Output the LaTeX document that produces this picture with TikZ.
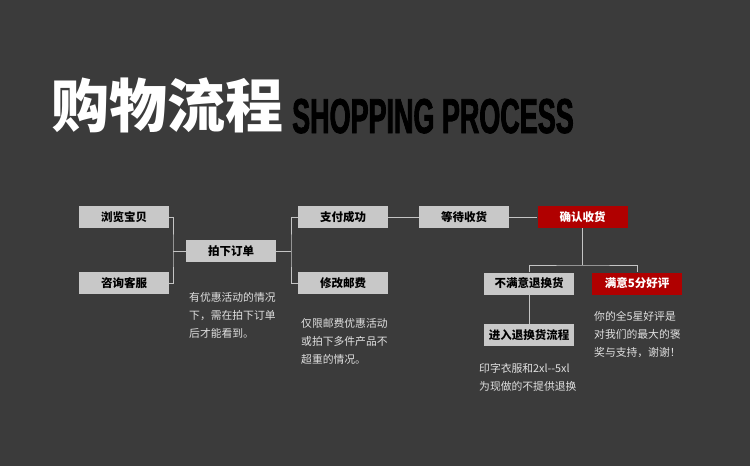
\documentclass[tikz,border=0pt]{standalone}
\usepackage{fontspec}
\setmainfont{Noto Sans CJK SC}
\newfontfamily\cjk{Noto Sans CJK SC}
\newfontfamily\narrowfont[FakeStretch=0.55,BoldFeatures={FakeBold=1.6}]{Liberation Sans}
\definecolor{bgdark}{HTML}{3B3B3B}
\definecolor{boxgray}{HTML}{C8C8C8}
\definecolor{boxred}{HTML}{B00000}
\definecolor{linegray}{HTML}{C4C4C4}
\definecolor{notegray}{HTML}{E0E0E0}

\begin{document}
\begin{tikzpicture}[x=1pt,y=-1pt,
    stepbox/.style={fill=boxgray,minimum width=90pt,minimum height=22pt,inner sep=0pt,
      font=\cjk\fontsize{11.5}{12}\selectfont\bfseries,text=black},
    redbox/.style={stepbox,fill=boxred,text=white},
    link/.style={draw=linegray,line width=0.9pt},
    note/.style={anchor=north west,inner sep=0pt,align=left,text=notegray,
      font=\cjk\fontsize{10.8}{18}\selectfont}]
      \fill[bgdark] (0,0) rectangle (750,466);
      \useasboundingbox (0,0) rectangle (750,466);

      \node[anchor=base west,inner sep=0pt,text=white,
        font=\cjk\fontsize{58}{60}\selectfont\bfseries] (title) at (51,127) {购物流程};
      \node[anchor=base west,inner sep=0pt,text=black,
        font=\narrowfont\fontsize{49}{50}\selectfont\bfseries] (subtitle) at (292,133) {SHOPPING PROCESS};

      \node[stepbox] (browse)   at (124,217)   {浏览宝贝};
      \node[stepbox] (consult)  at (124,283)   {咨询客服};
      \node[stepbox] (order)    at (231,251)   {拍下订单};
      \node[stepbox] (paid)     at (343,217)   {支付成功};
      \node[stepbox] (postage)  at (343,283)   {修改邮费};
      \node[stepbox] (waiting)  at (464,217)   {等待收货};
      \node[redbox]  (confirm)  at (582.5,217) {确认收货};
      \node[stepbox] (unhappy)  at (529,283.5) {不满意退换货};
      \node[redbox]  (happy)    at (637,283.5) {满意5分好评};
      \node[stepbox] (exchange) at (529,335)   {进入退换货流程};

      \coordinate (j1) at (173,251);
      \coordinate (j2) at (291,251);
      \coordinate (j3) at (582.5,265);

      \draw[link] (browse.east) -| (j1) |- (consult.east);
      \draw[link] (j1) -- (order.west);
      \draw[link] (order.east) -- (j2);
      \draw[link] (paid.west) -| (j2) |- (postage.west);
      \draw[link] (paid) -- (waiting);
      \draw[link] (waiting) -- (confirm);
      \draw[link] (confirm.south) -- (j3);
      \draw[link] (unhappy.north) |- (j3) -| (happy.north);
      \draw[link] (unhappy) -- (exchange);

      \node[note] (noteorder)    at (189,292) {有优惠活动的情况\\下，需在拍下订单\\后才能看到。};
      \node[note] (notepostage)  at (301,318) {仅限邮费优惠活动\\或拍下多件产品不\\超重的情况。};
      \node[note] (noteexchange) at (479,363) {印字衣服和2xl--5xl\\为现做的不提供退换};
      \node[note] (notehappy)    at (594,311) {你的全5星好评是\\对我们的最大的褒\\奖与支持，谢谢！};
\end{tikzpicture}
\end{document}
